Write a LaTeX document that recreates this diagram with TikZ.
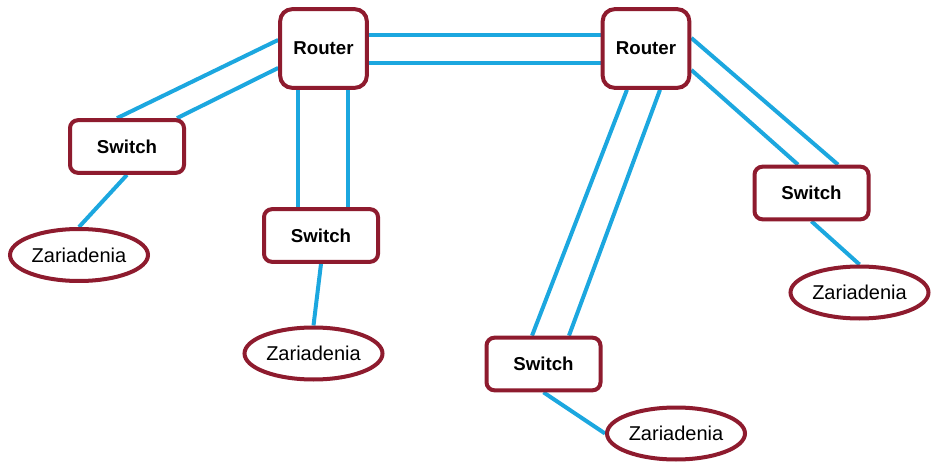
\documentclass[tikz,border=0pt]{standalone}
\usepackage{fontspec}
\setmainfont{Liberation Sans}
\usetikzlibrary{shapes.geometric,backgrounds}

\definecolor{netred}{HTML}{8E1B2E}
\definecolor{netblue}{HTML}{1CA7DF}

\tikzset{
	router/.style={draw=netred,line width=3pt,rounded corners=9pt,fill=white,inner sep=0pt,
		minimum width=65pt,minimum height=59pt,font=\fontsize{14}{16}\selectfont\bfseries},
	switchbox/.style={draw=netred,line width=3pt,rounded corners=6pt,fill=white,inner sep=0pt,
		minimum width=85.5pt,minimum height=39.5pt,font=\fontsize{14}{16}\selectfont\bfseries},
	device/.style={ellipse,draw=netred,line width=3pt,fill=white,inner sep=0pt,
		minimum width=103.5pt,minimum height=39pt,font=\fontsize{15}{17}\selectfont},
	link/.style={draw=netblue,line width=3pt}
}

\begin{document}
\begin{tikzpicture}[x=0.75pt,y=-0.75pt]
	\useasboundingbox (0,0) rectangle (935,470);

	\node[router] (r1) at (323.5,48.5) {Router};
	\node[router] (r2) at (646,48.5) {Router};

	\node[switchbox] (s1) at (127,146.5) {Switch};
	\node[switchbox] (s2) at (321,235.5) {Switch};
	\node[switchbox] (s3) at (543.5,364) {Switch};
	\node[switchbox] (s4) at (811.5,193) {Switch};

	\node[device] (e1) at (79,255) {Zariadenia};
	\node[device] (e2) at (313.5,353.5) {Zariadenia};
	\node[device] (e3) at (676,433.5) {Zariadenia};
	\node[device] (e4) at (859.5,292.5) {Zariadenia};

	\begin{scope}[on background layer]
		\draw[link] ([yshift=10pt]r1.east) -- ([yshift=10pt]r2.west);
		\draw[link] ([yshift=-11pt]r1.east) -- ([yshift=-11pt]r2.west);

		\draw[link] ([yshift=6.4pt]r1.west) -- ([xshift=-7.5pt]s1.north);
		\draw[link] ([yshift=-14.6pt]r1.west) -- ([xshift=37.5pt]s1.north);

		\draw[link] ([xshift=-19pt]r1.south) -- ([xshift=-19pt]r1.south |- s2.north);
		\draw[link] ([xshift=18.5pt]r1.south) -- ([xshift=18.5pt]r1.south |- s2.north);

		\draw[link] ([xshift=-14.3pt]r2.south) -- ([xshift=-8.6pt]s3.north);
		\draw[link] ([xshift=10.5pt]r2.south) -- ([xshift=19.1pt]s3.north);

		\draw[link] ([yshift=7.9pt]r2.east) -- ([xshift=19.9pt]s4.north);
		\draw[link] ([yshift=-16.1pt]r2.east) -- ([xshift=-10.1pt]s4.north);

		\draw[link] (s1.south) -- (e1.north);
		\draw[link] (s2.south) -- (e2.north);
		\draw[link] (s3.south) -- (e3.west);
		\draw[link] (s4.south) -- (e4.north);
	\end{scope}
\end{tikzpicture}
\end{document}
